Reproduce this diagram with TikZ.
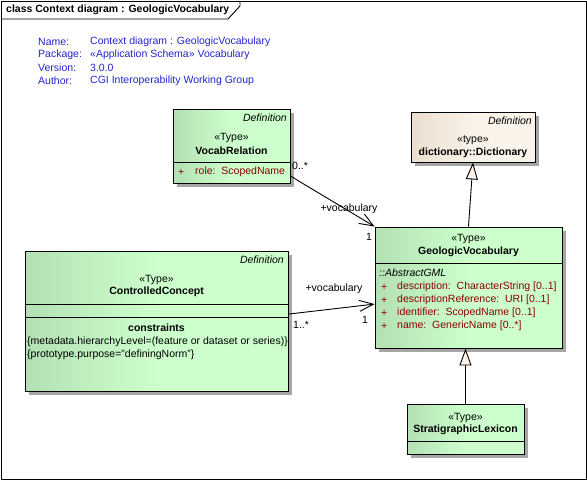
\documentclass[tikz,border=0pt]{standalone}
\usepackage{fontspec}
\setmainfont{Liberation Sans}
\usetikzlibrary{arrows.meta,shadows}

\definecolor{eagreen}{RGB}{204,255,204}
\definecolor{eagreendark}{RGB}{180,224,180}
\definecolor{eabeige}{RGB}{250,243,234}
\definecolor{eabeigedark}{RGB}{234,222,206}
\definecolor{eablue}{RGB}{36,36,204}
\definecolor{eared}{RGB}{140,0,0}
\definecolor{eatri}{RGB}{253,240,230}

\begin{document}
\begin{tikzpicture}[x=1pt,y=-1pt,
    every node/.style={inner sep=0pt, font=\fontsize{10.5}{12}\selectfont},
    classbox/.style={draw=black, line width=0.9pt,
        drop shadow={shadow xshift=4pt, shadow yshift=-4pt, fill=black!35, opacity=1}},
    greenbox/.style={classbox, left color=eagreendark, right color=eagreen, middle color=eagreen},
    beigebox/.style={classbox, left color=eabeigedark, right color=eabeige, middle color=eabeige},
    nm/.style={font=\fontsize{10.5}{12}\selectfont\bfseries},
    def/.style={anchor=east, font=\fontsize{10.5}{12}\selectfont\itshape},
    attr/.style={anchor=west, text=eared},
    hdr/.style={anchor=west, text=eablue},
    gen/.style={line width=0.9pt, -{Triangle[open, length=17pt, width=12pt, fill=eatri]}},
    nav/.style={line width=0.9pt, -{Straight Barb[length=14pt, width=11pt]}}]
    \useasboundingbox (0,0) rectangle (587,480);
    % frame and tab
    \draw [black, line width=0.9pt] (1,1) rectangle (586,479);
    \draw [black, line width=0.9pt] (1,19) -- (228,19) -- (240,6) -- (240,1);
    \node [nm, anchor=west] (title) at (6,10) {class Context diagram : GeologicVocabulary};
    % diagram notes
    \node [hdr] (nameK) at (38,42) {Name:};
    \node [hdr] (nameV) at (90,42) {Context diagram : GeologicVocabulary};
    \node [hdr] (pkgK) at (38,55) {Package:};
    \node [hdr] (pkgV) at (90,55) {«Application Schema» Vocabulary};
    \node [hdr] (verK) at (38,68) {Version:};
    \node [hdr] (verV) at (90,68) {3.0.0};
    \node [hdr] (autK) at (38,81) {Author:};
    \node [hdr] (autV) at (90,81) {CGI Interoperability Working Group};
    % VocabRelation
    \node [greenbox, minimum width=117pt, minimum height=74pt] (vocab) at (231.5,146) {};
    \draw [black, line width=0.9pt] (vocab.west |- 0,162) -- (vocab.east |- 0,162);
    \node [def] (vocabDef) at (287,118) {Definition};
    \node (vocabSt) at (231.5,138) {«Type»};
    \node [nm] (vocabNm) at (231.5,151) {VocabRelation};
    \node [attr] (vocabP) at (178,172) {+};
    \node [attr] (vocabA) at (195,172) {role:\ \ ScopedName};
    % dictionary::Dictionary
    \node [beigebox, minimum width=124pt, minimum height=50pt] (dict) at (473,137) {};
    \node [def] (dictDef) at (532,121) {Definition};
    \node (dictSt) at (473,140) {«type»};
    \node [nm] (dictNm) at (473,153) {dictionary::Dictionary};
    % GeologicVocabulary
    \node [greenbox, minimum width=187pt, minimum height=121pt] (geo) at (468.5,287.5) {};
    \draw [black, line width=0.9pt] (geo.west |- 0,263) -- (geo.east |- 0,263);
    \node (geoSt) at (468.5,239) {«Type»};
    \node [nm] (geoNm) at (468.5,252) {GeologicVocabulary};
    \node [anchor=west, font=\fontsize{10.5}{12}\selectfont\itshape] (geoAbs) at (379,273) {::AbstractGML};
    \foreach \y/\a [count=\i] in {287/{description:\ \ CharacterString [0..1]},
        300/{descriptionReference:\ \ URI [0..1]},
        313/{identifier:\ \ ScopedName [0..1]},
        326/{name:\ \ GenericName [0..*]}} {
        \node [attr] (geoP\i) at (381,\y) {+};
        \node [attr] (geoA\i) at (397,\y) {\a};
    }
    % ControlledConcept
    \node [greenbox, minimum width=263pt, minimum height=140pt] (cc) at (156.5,321) {};
    \draw [black, line width=0.9pt] (cc.west |- 0,304) -- (cc.east |- 0,304);
    \draw [black, line width=0.9pt] (cc.west |- 0,317) -- (cc.east |- 0,317);
    \node [def] (ccDef) at (284,260) {Definition};
    \node (ccSt) at (156.5,280) {«Type»};
    \node [nm] (ccNm) at (156.5,292) {ControlledConcept};
    \node [nm] (ccCon) at (156.5,328) {constraints};
    \node [anchor=west] (ccC1) at (27,342) {\{metadata.hierarchyLevel=(feature or dataset or series)\}};
    \node [anchor=west] (ccC2) at (27,355) {\{prototype.purpose="definingNorm"\}};
    % StratigraphicLexicon
    \node [greenbox, minimum width=117pt, minimum height=50pt] (lex) at (465.5,429) {};
    \draw [black, line width=0.9pt] (lex.west |- 0,441) -- (lex.east |- 0,441);
    \node (lexSt) at (465.5,418) {«Type»};
    \node [nm] (lexNm) at (465.5,430) {StratigraphicLexicon};
    % generalizations
    \draw [gen] (geo.north) -- (dict.south);
    \draw [gen] (lex.north) -- (lex.north |- geo.south);
    % associations
    \draw [nav] (vocab.-27) -- (geo.north west);
    \draw [nav] (cc.3) -- (geo.190.6);
    \node [anchor=west] (m1) at (292,166) {0..*};
    \node (r1) at (349,209) {+vocabulary};
    \node (o1) at (369,237) {1};
    \node [anchor=west, fill=white, inner sep=1pt] (m2) at (292,325) {1..*};
    \node (r2) at (334,289) {+vocabulary};
    \node (o2) at (365,320) {1};
\end{tikzpicture}
\end{document}
